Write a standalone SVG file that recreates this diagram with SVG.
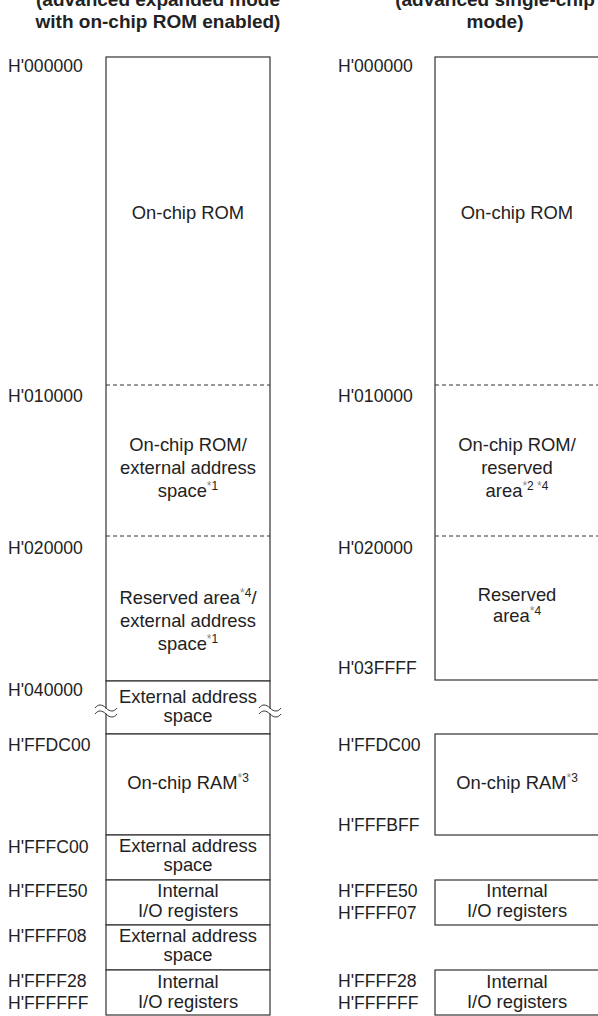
<svg xmlns="http://www.w3.org/2000/svg" width="598" height="1016" viewBox="0 0 598 1016">
<style>
.box{fill:#fff;stroke:#333;stroke-width:1.2}
.dash{stroke:#333;stroke-width:1;stroke-dasharray:4 3;fill:none}
.t{font-family:"Liberation Sans",Arial,sans-serif;font-size:18.4px;fill:#222;text-anchor:middle}
.lbl{font-family:"Liberation Sans",Arial,sans-serif;font-size:17.6px;fill:#222}
.title{font-family:"Liberation Sans",Arial,sans-serif;font-size:19px;font-weight:bold;fill:#222;text-anchor:middle}
.sup{font-size:12px}
.ast{fill:#888}
.brk{fill:none;stroke:#333;stroke-width:1}
</style>
<rect width="598" height="1016" fill="#fff"/>
<g id="titles">
<text class="title" x="158" y="6">(advanced expanded mode</text>
<text class="title" x="158" y="28">with on-chip ROM enabled)</text>
<text class="title" x="495" y="6">(advanced single-chip</text>
<text class="title" x="495" y="28">mode)</text>
</g>
<g id="left-labels">
<text class="lbl" x="8" y="72">H'000000</text>
<text class="lbl" x="8" y="402">H'010000</text>
<text class="lbl" x="8" y="554">H'020000</text>
<text class="lbl" x="8" y="696">H'040000</text>
<text class="lbl" x="8" y="751">H'FFDC00</text>
<text class="lbl" x="8" y="853">H'FFFC00</text>
<text class="lbl" x="8" y="897">H'FFFE50</text>
<text class="lbl" x="8" y="942">H'FFFF08</text>
<text class="lbl" x="8" y="987">H'FFFF28</text>
<text class="lbl" x="8" y="1009">H'FFFFFF</text>
</g>
<g id="right-labels">
<text class="lbl" x="338" y="72">H'000000</text>
<text class="lbl" x="338" y="402">H'010000</text>
<text class="lbl" x="338" y="554">H'020000</text>
<text class="lbl" x="338" y="674">H'03FFFF</text>
<text class="lbl" x="338" y="751">H'FFDC00</text>
<text class="lbl" x="338" y="831">H'FFFBFF</text>
<text class="lbl" x="338" y="897">H'FFFE50</text>
<text class="lbl" x="338" y="919">H'FFFF07</text>
<text class="lbl" x="338" y="987">H'FFFF28</text>
<text class="lbl" x="338" y="1009">H'FFFFFF</text>
</g>
<g id="left-rom-block">
<rect class="box" x="106" y="57" width="164" height="624"/>
<line class="dash" x1="106" y1="385" x2="270" y2="385"/>
<line class="dash" x1="106" y1="536" x2="270" y2="536"/>
</g>
<g id="l-onchip-rom">
<text class="t" x="188" y="219">On-chip ROM</text>
</g>
<g id="l-rom-ext">
<text class="t" x="188" y="451">On-chip ROM/</text>
<text class="t" x="188" y="474">external address</text>
<text class="t" x="188" y="497">space<tspan class="sup ast" dy="-7">*</tspan><tspan class="sup">1</tspan></text>
</g>
<g id="l-reserved-ext">
<text class="t" x="188" y="604">Reserved area<tspan class="sup ast" dy="-7">*</tspan><tspan class="sup">4</tspan><tspan dy="7">/</tspan></text>
<text class="t" x="188" y="627">external address</text>
<text class="t" x="188" y="650">space<tspan class="sup ast" dy="-7">*</tspan><tspan class="sup">1</tspan></text>
</g>
<g id="l-ext1">
<rect class="box" x="106" y="681" width="164" height="53"/>
<text class="t" x="188" y="703">External address</text>
<text class="t" x="188" y="722">space</text>
</g>
<g id="l-ram">
<rect class="box" x="106" y="734" width="164" height="101"/>
<text class="t" x="188" y="789">On-chip RAM<tspan class="sup ast" dy="-7">*</tspan><tspan class="sup">3</tspan></text>
</g>
<g id="l-ext2">
<rect class="box" x="106" y="835" width="164" height="45"/>
<text class="t" x="188" y="852">External address</text>
<text class="t" x="188" y="871">space</text>
</g>
<g id="l-io1">
<rect class="box" x="106" y="880" width="164" height="45"/>
<text class="t" x="188" y="897">Internal</text>
<text class="t" x="188" y="917">I/O registers</text>
</g>
<g id="l-ext3">
<rect class="box" x="106" y="925" width="164" height="45"/>
<text class="t" x="188" y="942">External address</text>
<text class="t" x="188" y="961">space</text>
</g>
<g id="l-io2">
<rect class="box" x="106" y="970" width="164" height="45"/>
<text class="t" x="188" y="988">Internal</text>
<text class="t" x="188" y="1008">I/O registers</text>
</g>
<g id="right-rom-block">
<rect class="box" x="435" y="57" width="164" height="623"/>
<line class="dash" x1="435" y1="385" x2="599" y2="385"/>
<line class="dash" x1="435" y1="536" x2="599" y2="536"/>
</g>
<g id="r-onchip-rom">
<text class="t" x="517" y="219">On-chip ROM</text>
</g>
<g id="r-rom-reserved">
<text class="t" x="517" y="451">On-chip ROM/</text>
<text class="t" x="517" y="474">reserved</text>
<text class="t" x="517" y="497">area<tspan class="sup ast" dy="-7">*</tspan><tspan class="sup">2 </tspan><tspan class="sup ast">*</tspan><tspan class="sup">4</tspan></text>
</g>
<g id="r-reserved">
<text class="t" x="517" y="601">Reserved</text>
<text class="t" x="517" y="622">area<tspan class="sup ast" dy="-7">*</tspan><tspan class="sup">4</tspan></text>
</g>
<g id="r-ram">
<rect class="box" x="435" y="734" width="164" height="101"/>
<text class="t" x="517" y="789">On-chip RAM<tspan class="sup ast" dy="-7">*</tspan><tspan class="sup">3</tspan></text>
</g>
<g id="r-io1">
<rect class="box" x="435" y="880" width="164" height="45"/>
<text class="t" x="517" y="897">Internal</text>
<text class="t" x="517" y="917">I/O registers</text>
</g>
<g id="r-io2">
<rect class="box" x="435" y="970" width="164" height="45"/>
<text class="t" x="517" y="988">Internal</text>
<text class="t" x="517" y="1008">I/O registers</text>
</g>
<g id="connectors">
<rect x="103" y="708.5" width="6" height="5" fill="#fff"/>
<path class="brk" d="M95 708 c3 -4 7 -4 11 0 s8 4 11 0"/>
<path class="brk" d="M95 714 c3 -4 7 -4 11 0 s8 4 11 0"/>
<rect x="267" y="708.5" width="6" height="5" fill="#fff"/>
<path class="brk" d="M259 708 c3 -4 7 -4 11 0 s8 4 11 0"/>
<path class="brk" d="M259 714 c3 -4 7 -4 11 0 s8 4 11 0"/>
</g>
</svg>
